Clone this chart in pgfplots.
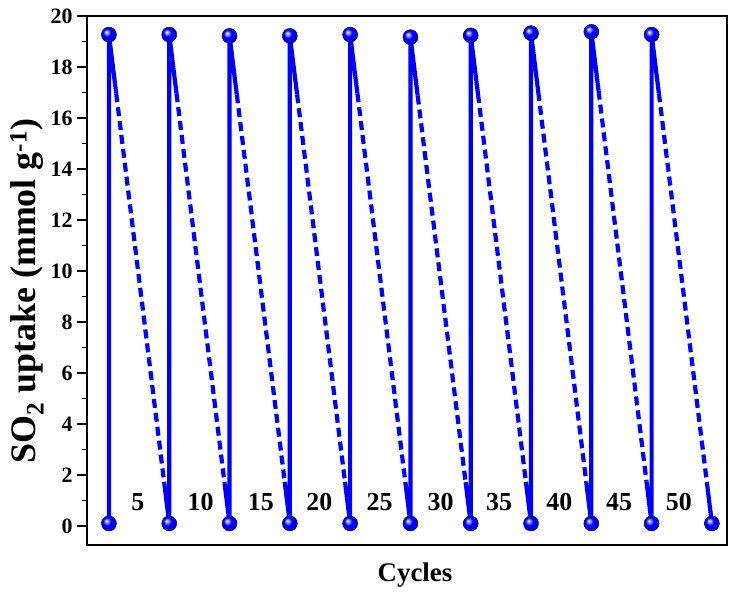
\documentclass[border=0pt]{standalone}
\usepackage{pgfplots}
\pgfplotsset{compat=1.18}
\usepackage{fontspec}
\setmainfont{Liberation Serif}
\usetikzlibrary{calc}
\definecolor{pblue}{RGB}{0,0,255}
\makeatletter
\pgfdeclareradialshading[tikz@ball]{ball}{\pgfqpoint{-9bp}{9bp}}{%
  color(0bp)=(tikz@ball!0!white); color(6bp)=(tikz@ball!45!white);
  color(13bp)=(tikz@ball); color(25bp)=(tikz@ball!92!black); color(50bp)=(tikz@ball!70!black)}
\makeatother
\begin{document}
\begin{tikzpicture}
\begin{axis}[
  scale only axis, width=640bp, height=529bp,
  xmin=-0.364, xmax=10.25, ymin=-0.745, ymax=20,
  xtick=\empty,
  ytick={0,2,...,20}, minor y tick num=1,
  tick align=outside, ytick pos=left,
  major tick length=10bp, minor tick length=5bp,
  axis line style={line width=2bp},
  every tick/.style={black, line width=1.6bp},
  /pgf/number format/assume math mode=true,
  yticklabel style={font=\bfseries\fontsize{22}{22}\selectfont, xshift=-1bp},
  ylabel={\textbf{SO\textsubscript{2} uptake (mmol g\textsuperscript{-1})}},
  xlabel={\textbf{Cycles}},
  ylabel style={font=\bfseries\fontsize{36}{36}\selectfont, at={(axis description cs:-0.094,0.48)}, anchor=center},
  xlabel style={font=\bfseries\fontsize{27}{27}\selectfont, at={(axis description cs:0.5125,-0.056)}, anchor=center},
  unbounded coords=jump,
]
% solid parts: vertical rises and short solid ends of each descent
\addplot[pblue, line width=4.2bp] coordinates {
 (0,0.1) (0,19.27) (0.12,16.97) (nan,nan)
 (0.915,1.73) (1,0.1) (1,19.27) (1.12,16.97) (nan,nan)
 (1.915,1.73) (2,0.1) (2,19.22) (2.12,16.93) (nan,nan)
 (2.915,1.73) (3,0.1) (3,19.22) (3.12,16.93) (nan,nan)
 (3.915,1.73) (4,0.1) (4,19.27) (4.12,16.97) (nan,nan)
 (4.915,1.73) (5,0.1) (5,19.17) (5.12,16.88) (nan,nan)
 (5.915,1.72) (6,0.1) (6,19.24) (6.12,16.94) (nan,nan)
 (6.915,1.73) (7,0.1) (7,19.33) (7.12,17.02) (nan,nan)
 (7.915,1.74) (8,0.1) (8,19.38) (8.12,17.07) (nan,nan)
 (8.915,1.74) (9,0.1) (9,19.27) (9.12,16.97) (nan,nan)
 (9.915,1.73) (10,0.1)
};
% dashed parts of each descent
\addplot[pblue, line width=4.2bp, dash pattern=on 9bp off 5bp] coordinates {
 (0.12,16.97) (0.915,1.73) (nan,nan)
 (1.12,16.97) (1.915,1.73) (nan,nan)
 (2.12,16.93) (2.915,1.73) (nan,nan)
 (3.12,16.93) (3.915,1.73) (nan,nan)
 (4.12,16.97) (4.915,1.73) (nan,nan)
 (5.12,16.88) (5.915,1.72) (nan,nan)
 (6.12,16.94) (6.915,1.73) (nan,nan)
 (7.12,17.02) (7.915,1.74) (nan,nan)
 (8.12,17.07) (8.915,1.74) (nan,nan)
 (9.12,16.97) (9.915,1.73)
};
% sphere markers
\addplot[only marks, mark=ball, mark size=7.5bp, mark options={ball color=pblue}] coordinates {
 (0,0.1) (1,0.1) (2,0.1) (3,0.1) (4,0.1) (5,0.1) (6,0.1) (7,0.1) (8,0.1) (9,0.1) (10,0.1)
 (0,19.27) (1,19.27) (2,19.22) (3,19.22) (4,19.27) (5,19.17) (6,19.24) (7,19.33) (8,19.38) (9,19.27)
};
\foreach \i/\t in {0.48/5,1.52/10,2.52/15,3.49/20,4.49/25,5.5/30,6.47/35,7.47/40,8.46/45,9.45/50}{
  \edef\tmp{\noexpand\node[font=\noexpand\bfseries\noexpand\fontsize{26}{26}\noexpand\selectfont] at (axis cs:\i,0.95) {\t};}
  \tmp
}
\end{axis}
\path ($(current axis.south west)+(-87bp,-51bp)$) rectangle ($(current axis.north east)+(3bp,16bp)$);
\end{tikzpicture}
\end{document}
